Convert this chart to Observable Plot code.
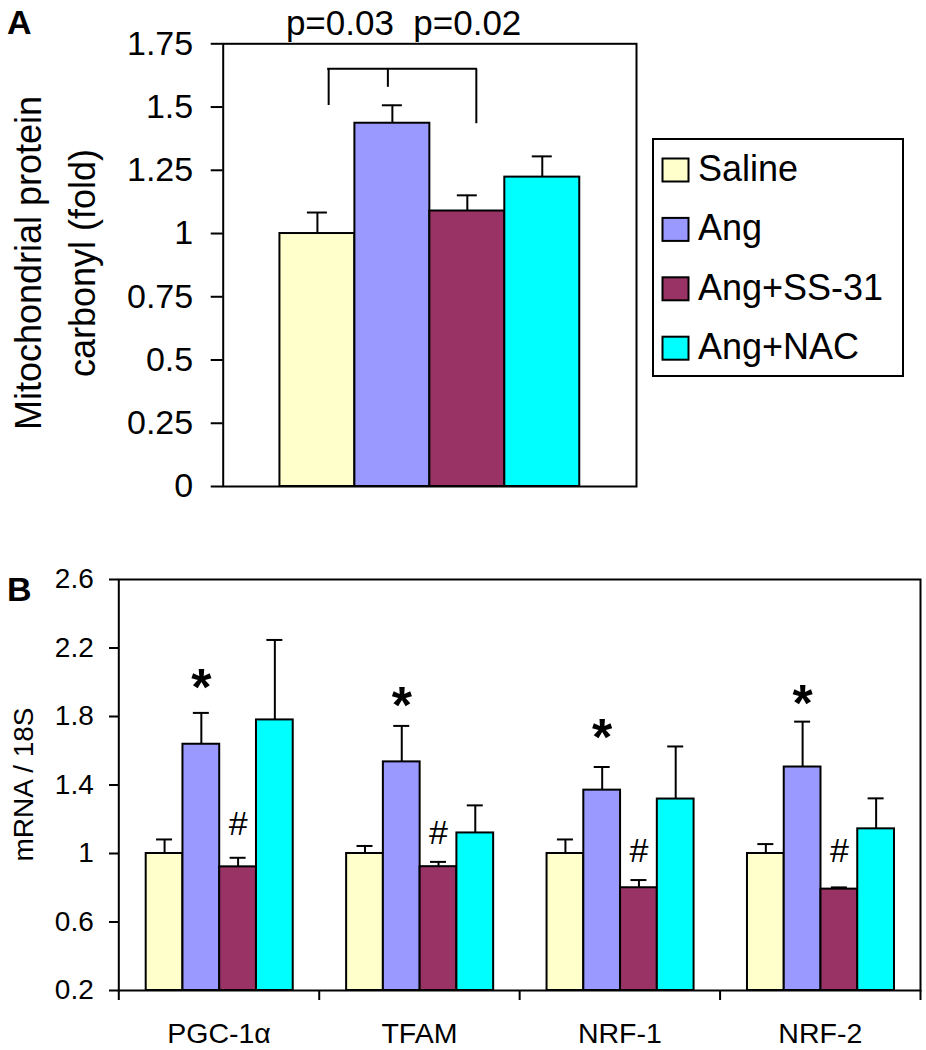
<!DOCTYPE html>
<html><head><meta charset="utf-8">
<script src="https://cdn.jsdelivr.net/npm/d3@7"></script>
<script src="https://cdn.jsdelivr.net/npm/@observablehq/plot@0.6"></script>
<style>
body{margin:0;background:#fff;}
#wrap{position:relative;width:926px;height:1050px;background:#fff;}
#wrap > svg{display:block;}
#legend{position:absolute;left:652px;top:138px;}
</style></head><body><div id="wrap"></div>
<script>
// ---------- data ----------
const groups = ["Saline", "Ang", "Ang+SS-31", "Ang+NAC"];
const colors = ["#FFFFCC", "#9999FF", "#993366", "#00FFFF"];

// Panel A: mitochondrial protein carbonyl (fold)
const carbonylMean = [1.0, 1.436, 1.089, 1.223];
const carbonylErrTop = [1.083, 1.507, 1.151, 1.305];
const yTicksA = [0, 0.25, 0.5, 0.75, 1, 1.25, 1.5, 1.75];
const yTickLabelsA = ["0", "0.25", "0.5", "0.75", "1", "1.25", "1.5", "1.75"];
const pLabels = ["p=0.03", "p=0.02"];
const pLabelX = [0.3, 2.0];
const pLabelY = 1.783;
const bracketX = [0.15, 0.94, 2.12];
const bracketBottom = [1.506, 1.578, 1.434];
const bracketTop = 1.651;

// Panel B: mRNA / 18S
const genes = ["PGC-1α", "TFAM", "NRF-1", "NRF-2"];
const salineMean = [1.0, 1.0, 1.0, 1.0];
const salineErrTop = [1.082, 1.044, 1.082, 1.055];
const angMean = [1.638, 1.535, 1.370, 1.505];
const angErrTop = [1.821, 1.745, 1.505, 1.770];
const ss31Mean = [0.922, 0.923, 0.800, 0.792];
const ss31ErrTop = [0.975, 0.951, 0.845, 0.802];
const nacMean = [1.780, 1.120, 1.318, 1.144];
const nacErrTop = [2.247, 1.281, 1.625, 1.322];
const starY = [2.038, 1.935, 1.750, 1.945];
const hashY = [1.178, 1.124, 1.020, 1.020];
const yTicksB = [0.2, 0.6, 1, 1.4, 1.8, 2.2, 2.6];
const yTickLabelsB = ["0.2", "0.6", "1", "1.4", "1.8", "2.2", "2.6"];
const yMinB = 0.2;

// ---------- helpers ----------
const FONT = '"Liberation Sans", Arial, Helvetica, sans-serif';
const wrap = document.getElementById("wrap");

function thickenTicks(svg) {
  d3.select(svg).selectAll('g[aria-label$="tick"], g[aria-label$="axis"]').attr("stroke-width", 2);
  d3.select(svg).selectAll('g[aria-label$="axis"] line, g[aria-label$="axis"] path').attr("stroke-width", 2);
}

// ---------- Panel A ----------
const rowsA = groups.map((g, i) => ({group: g, i, mean: carbonylMean[i], err: carbonylErrTop[i]}));

const plotA = Plot.plot({
  width: 926, height: 500,
  marginLeft: 222.7, marginRight: 290, marginTop: 43.3, marginBottom: 14,
  style: {fontSize: "34px", fontFamily: FONT, color: "black", background: "white", overflow: "visible"},
  x: {domain: [-1.257, 4.257], axis: null},
  y: {domain: [0, 1.75], ticks: yTicksA, tickFormat: d => yTickLabelsA[yTicksA.indexOf(d)], tickSize: 12, tickPadding: 18, label: null},
  color: {domain: groups, range: colors},
  marks: [
    Plot.rectY(rowsA, {x1: d => d.i - 0.5, x2: d => d.i + 0.5, y1: 0, y2: "mean", fill: "group", stroke: "black", strokeWidth: 2}),
    Plot.ruleX(rowsA, {x: "i", y1: "mean", y2: "err", stroke: "black", strokeWidth: 2}),
    Plot.ruleY(rowsA, {x1: "i", x2: "i", y: "err", insetLeft: -10, insetRight: -10, stroke: "black", strokeWidth: 2}),
    Plot.ruleY([bracketTop], {x1: () => bracketX[0], x2: () => bracketX[2], y: d => d, stroke: "black", strokeWidth: 2, strokeLinecap: "square"}),
    Plot.ruleX(bracketX, {x: d => d, y1: (d, i) => bracketBottom[i], y2: () => bracketTop, stroke: "black", strokeWidth: 2}),
    Plot.text(pLabels, {x: (d, i) => pLabelX[i], y: () => pLabelY, text: d => d, fontSize: 35, lineAnchor: "bottom", fill: "black"}),
    Plot.frame({stroke: "black", strokeWidth: 2})
  ]
});
thickenTicks(plotA);
{
  const s = d3.select(plotA);
  s.append("text").attr("x", 7).attr("y", 34).style("font-size", "34px").style("font-weight", "bold")
    .attr("text-anchor", "start").attr("font-family", FONT).attr("fill", "black").text("A");
  const g = s.append("g").attr("transform", "translate(0,263) rotate(-90)")
    .attr("font-family", FONT).style("font-size", "36px").attr("fill", "black").attr("text-anchor", "middle");
  g.append("text").attr("x", 0).attr("y", 41).text("Mitochondrial protein");
  g.append("text").attr("x", 0).attr("y", 95).text("carbonyl (fold)");
}
wrap.appendChild(plotA);

// Legend
{
  const lg = d3.create("svg").attr("id", "legend").attr("width", 253).attr("height", 240)
    .attr("font-family", FONT);
  lg.append("rect").attr("x", 1).attr("y", 1).attr("width", 250).attr("height", 237)
    .attr("fill", "white").attr("stroke", "black").attr("stroke-width", 2);
  groups.forEach((g, i) => {
    lg.append("rect").attr("x", 10.5).attr("y", 20.5 + i * 59.4).attr("width", 26).attr("height", 23)
      .attr("fill", colors[i]).attr("stroke", "black").attr("stroke-width", 2);
    lg.append("text").attr("x", 46).attr("y", 43 + i * 59.4).style("font-size", "36px")
      .attr("text-anchor", "start").attr("fill", "black").text(g);
  });
  wrap.appendChild(lg.node());
}

// ---------- Panel B ----------
const meansB = [salineMean, angMean, ss31Mean, nacMean];
const errsB = [salineErrTop, angErrTop, ss31ErrTop, nacErrTop];
const padFrac = 0.1367, barFrac = 0.1834; // layout within a category (category width = 1)
const rowsB = [];
genes.forEach((gene, gi) => groups.forEach((group, j) => {
  rowsB.push({gene, gi, group, j, mean: meansB[j][gi], err: errsB[j][gi]});
}));
const cx = d => d.gi + padFrac + (d.j + 0.5) * barFrac;

const plotB = Plot.plot({
  width: 926, height: 550,
  marginLeft: 118.3, marginRight: 6, marginTop: 79, marginBottom: 60,
  style: {fontSize: "28px", fontFamily: FONT, color: "black", background: "white", overflow: "visible"},
  x: {domain: [0, 4], ticks: [0, 1, 2, 3, 4], tickSize: 10, tickFormat: () => "", label: null},
  y: {domain: [0.2, 2.6], ticks: yTicksB, tickFormat: d => yTickLabelsB[yTicksB.indexOf(d)], tickSize: 9.3, tickPadding: 15.7, label: null},
  color: {domain: groups, range: colors},
  marks: [
    Plot.rectY(rowsB, {x1: d => d.gi + padFrac + d.j * barFrac, x2: d => d.gi + padFrac + (d.j + 1) * barFrac,
      y1: () => yMinB, y2: "mean", fill: "group", stroke: "black", strokeWidth: 2}),
    Plot.ruleX(rowsB, {x: cx, y1: "mean", y2: "err", stroke: "black", strokeWidth: 2}),
    Plot.ruleY(rowsB, {x1: cx, x2: cx, y: "err", insetLeft: -8, insetRight: -8, stroke: "black", strokeWidth: 2}),
    Plot.text(genes, {x: (d, i) => i + padFrac + 1.5 * barFrac, y: (d, i) => starY[i], text: () => "*",
      fontSize: 52, fontWeight: "bold", dy: 13, fill: "black"}),
    Plot.text(genes, {x: (d, i) => i + padFrac + 2.5 * barFrac, y: (d, i) => hashY[i], text: () => "#",
      fontSize: 34, dy: 1, fill: "black"}),
    Plot.text(genes, {x: (d, i) => i + 0.5, y: () => yMinB, text: d => d, fontSize: 28.5,
      lineAnchor: "bottom", dy: 52.7, fill: "black"}),
    Plot.frame({stroke: "black", strokeWidth: 2})
  ]
});
thickenTicks(plotB);
{
  const s = d3.select(plotB);
  s.append("text").attr("x", 7).attr("y", 101).style("font-size", "34px").style("font-weight", "bold")
    .attr("text-anchor", "start").attr("font-family", FONT).attr("fill", "black").text("B");
  s.append("text").attr("transform", "translate(0,284.5) rotate(-90)").attr("x", 0).attr("y", 33)
    .attr("text-anchor", "middle").attr("font-family", FONT).style("font-size", "28px").attr("fill", "black")
    .text("mRNA / 18S");
}
wrap.appendChild(plotB);
</script></body></html>
